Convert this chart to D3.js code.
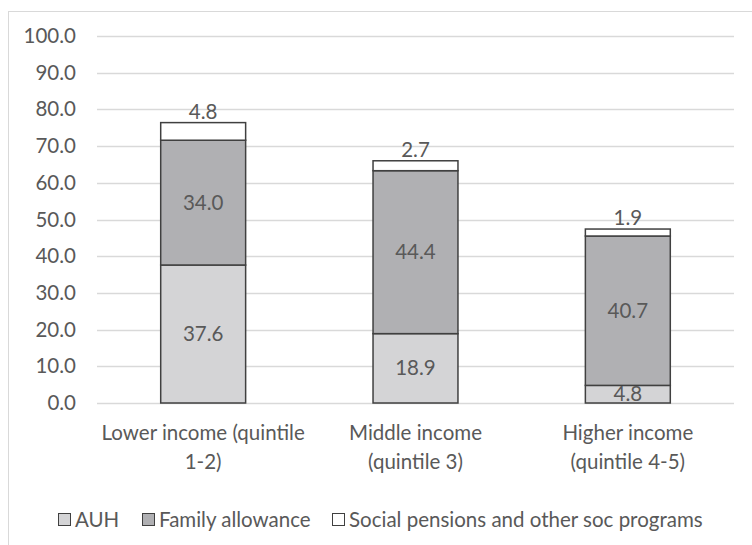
<!DOCTYPE html>
<html>
<head>
<meta charset="utf-8">
<script src="https://cdn.jsdelivr.net/npm/d3@7"></script>
<style>
  html, body { margin: 0; padding: 0; background: #fff; }
  svg { display: block; }
  text { font-family: Lato, "Liberation Sans", sans-serif; fill: #595959; }
</style>
</head>
<body>
<svg id="chart" width="752" height="545"></svg>
<script>
// Income groups and the three stacked program shares (%)
const categories = [
  ["Lower income (quintile", "1-2)"],
  ["Middle income", "(quintile 3)"],
  ["Higher income", "(quintile 4-5)"]
];
const seriesNames = ["AUH", "Family allowance", "Social pensions and other soc programs"];
const auh = [37.6, 18.9, 4.8];
const familyAllowance = [34.0, 44.4, 40.7];
const socialPensions = [4.8, 2.7, 1.9];
const yTicks = [0, 10, 20, 30, 40, 50, 60, 70, 80, 90, 100];
const colors = ["#d4d4d6", "#b0b0b3", "#ffffff"];

const FS = 20.5;
const svg = d3.select("#chart");
const W = 752, H = 545;
const plot = { left: 97, right: 734, top: 36, bottom: 403 };

// Outer chart frame
svg.append("rect")
  .attr("x", 8.5).attr("y", 11.5)
  .attr("width", W + 10).attr("height", H + 10)
  .attr("fill", "#fff").attr("stroke", "#d9d9d9").attr("stroke-width", 1);

const rows = categories.map((c, i) => ({
  key: i,
  AUH: auh[i],
  "Family allowance": familyAllowance[i],
  "Social pensions and other soc programs": socialPensions[i]
}));

const x = d3.scaleBand().domain(d3.range(categories.length))
  .range([plot.left, plot.right]).paddingInner(0.6).paddingOuter(0.3);
const y = d3.scaleLinear().domain([0, 100]).range([plot.bottom, plot.top]);

// Gridlines
svg.append("g").selectAll("line").data(yTicks).join("line")
  .attr("x1", plot.left).attr("x2", plot.right)
  .attr("y1", d => Math.round(y(d)) + 0.5).attr("y2", d => Math.round(y(d)) + 0.5)
  .attr("stroke", "#d9d9d9").attr("stroke-width", 1.5);

// Y axis labels
const yAxis = d3.axisLeft(y).tickValues(yTicks).tickFormat(d3.format(".1f")).tickSize(0).tickPadding(0);
const yg = svg.append("g").attr("transform", `translate(${plot.left - 21},0)`).call(yAxis);
yg.select(".domain").remove();
yg.selectAll("text").attr("font-size", FS).style("font-family", "Lato, sans-serif").attr("fill", "#595959");

// Stacked bars
const stack = d3.stack().keys(seriesNames)(rows);
const layers = svg.append("g").selectAll("g").data(stack).join("g")
  .attr("fill", (d, i) => colors[i]);
layers.selectAll("rect").data(d => d).join("rect")
  .attr("x", d => x(d.data.key))
  .attr("width", x.bandwidth())
  .attr("y", d => y(d[1]))
  .attr("height", d => y(d[0]) - y(d[1]))
  .attr("stroke", "#404040").attr("stroke-width", 1.5);

// Value labels
stack.forEach((layer, li) => {
  svg.append("g").selectAll("text").data(layer).join("text")
    .attr("x", d => x(d.data.key) + x.bandwidth() / 2)
    .attr("y", d => li === 2 ? y(d[1]) - 11 : (y(d[0]) + y(d[1])) / 2)
    .attr("dy", "0.35em")
    .attr("text-anchor", "middle")
    .attr("font-size", FS)
    .text(d => (d[1] - d[0]).toFixed(1));
});

// Category labels
const catG = svg.append("g").selectAll("text").data(categories).join("text")
  .attr("text-anchor", "middle")
  .attr("font-size", FS);
catG.each(function (lines, i) {
  const t = d3.select(this);
  lines.forEach((ln, k) => {
    t.append("tspan")
      .attr("x", x(i) + x.bandwidth() / 2)
      .attr("y", 440 + k * 29)
      .text(ln);
  });
});

// Legend
const legendX = [58, 142, 332];
const lg = svg.append("g").selectAll("g").data(seriesNames).join("g")
  .attr("transform", (d, i) => `translate(${legendX[i]},513)`);
lg.append("rect").attr("x", 0.5).attr("y", 0.5).attr("width", 12).attr("height", 12)
  .attr("fill", (d, i) => colors[i]).attr("stroke", "#404040").attr("stroke-width", 1);
lg.append("text").attr("x", 17).attr("y", 6.5).attr("dy", "0.35em")
  .attr("font-size", FS).text(d => d);
</script>
</body>
</html>
